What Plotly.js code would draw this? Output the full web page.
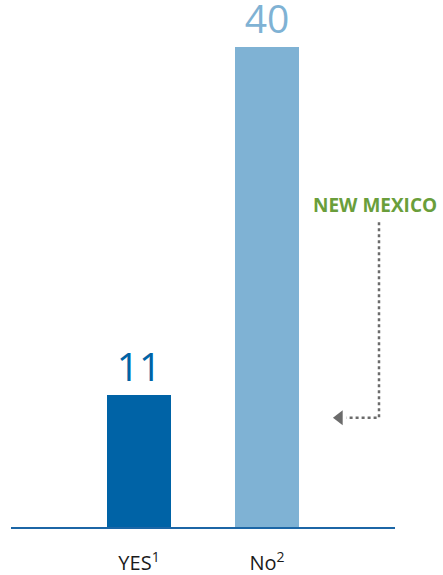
<!DOCTYPE html>
<html>
<head>
<meta charset="utf-8">
<script src="https://cdn.plot.ly/plotly-3.0.1.min.js"></script>
<style>
html,body{margin:0;padding:0;background:#fff;}
#chart{width:443px;height:575px;}
</style>
</head>
<body>
<div id="chart"></div>
<script>
const categories = ['YES<sup>1</sup>', 'No<sup>2</sup>'];
const values = [11, 40];
const barColors = ['#0063a6', '#7fb2d4'];
const calloutText = 'NEW MEXICO';

const FONT = '"Open Sans", "Noto Sans", sans-serif';
const positions = categories.map((c, i) => i);

const bars = {
  type: 'bar',
  x: positions,
  y: values,
  marker: {color: barColors, line: {width: 0}},
  width: 0.5,
  text: values.map(String),
  textposition: 'outside',
  textfont: {family: FONT, size: 39, color: barColors},
  constraintext: 'none',
  cliponaxis: false,
  hoverinfo: 'none',
  showlegend: false
};

// arrow head of the callout
const arrowHead = {
  type: 'scatter',
  mode: 'markers',
  x: [1.566],
  y: [9.1],
  marker: {symbol: 'triangle-left', size: 13, color: '#6b6b6b'},
  hoverinfo: 'none',
  showlegend: false,
  cliponaxis: false
};

const layout = {
  width: 443,
  height: 575,
  margin: {l: 11, r: 48, t: 47, b: 48, pad: 0},
  paper_bgcolor: '#ffffff',
  plot_bgcolor: '#ffffff',
  xaxis: {
    type: 'linear',
    range: [-1, 2],
    tickmode: 'array',
    tickvals: positions,
    ticktext: categories,
    showline: true,
    linecolor: '#1c66a6',
    linewidth: 2,
    showgrid: false,
    zeroline: false,
    ticks: '',
    ticklabelstandoff: 17,
    tickfont: {family: FONT, size: 20, color: '#1a1a1a'},
    fixedrange: true
  },
  yaxis: {
    range: [0, 40],
    visible: false,
    showgrid: false,
    zeroline: false,
    fixedrange: true
  },
  shapes: [{
    type: 'path',
    xref: 'x', yref: 'y',
    path: 'M 1.875 25.4 L 1.875 9.1 L 1.62 9.1',
    line: {color: '#6b6b6b', width: 2.5, dash: 'dot'}
  }],
  annotations: [{
    xref: 'x', yref: 'y',
    x: 1.84, y: 26.8,
    text: '<b>' + calloutText + '</b>',
    showarrow: false,
    font: {family: FONT, size: 19, color: '#6a9e3b'},
    xanchor: 'center', yanchor: 'middle'
  }]
};

Plotly.newPlot('chart', [bars, arrowHead], layout, {displayModeBar: false, staticPlot: true});
</script>
</body>
</html>
